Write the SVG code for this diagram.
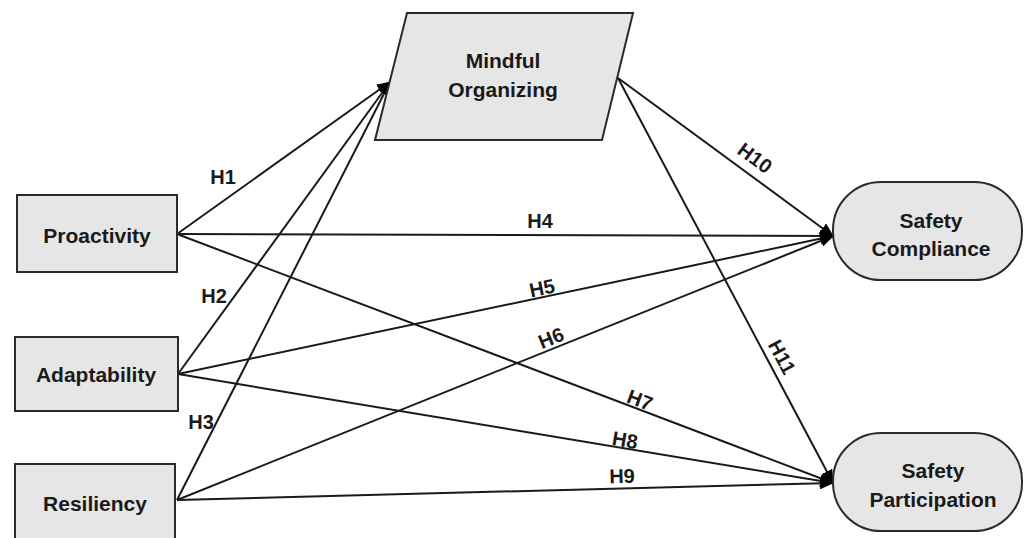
<svg xmlns="http://www.w3.org/2000/svg" width="1028" height="538" viewBox="0 0 1028 538">
<style>
.node{fill:#e6e6e6;stroke:#2a2a2a;stroke-width:2}
.nt{font-family:"Liberation Sans",Arial,sans-serif;font-weight:bold;font-size:21px;fill:#1a1a1a;text-anchor:middle}
.lbl{font-family:"Liberation Sans",Arial,sans-serif;font-weight:bold;font-size:20px;fill:#1a1a1a;text-anchor:middle}
.edge{stroke:#1a1a1a;stroke-width:2;fill:none;marker-end:url(#ah)}
</style>
<defs>
<marker id="ah" markerUnits="userSpaceOnUse" markerWidth="14" markerHeight="12" refX="13" refY="6" orient="auto">
<path d="M0,0 L14,6 L0,12 Z" fill="#000"/>
</marker>
</defs>
<rect width="1028" height="538" fill="#fff"/>
<g id="connectors">
<line class="edge" x1="177" y1="234" x2="390" y2="82"/>
<line class="edge" x1="178" y1="374" x2="390" y2="82"/>
<line class="edge" x1="177" y1="500" x2="390" y2="82"/>
<line class="edge" x1="177" y1="234" x2="833" y2="236"/>
<line class="edge" x1="178" y1="374" x2="833" y2="236"/>
<line class="edge" x1="177" y1="500" x2="833" y2="236"/>
<line class="edge" x1="177" y1="234" x2="833" y2="483"/>
<line class="edge" x1="178" y1="374" x2="833" y2="483"/>
<line class="edge" x1="177" y1="500" x2="833" y2="483"/>
<line class="edge" x1="618" y1="78" x2="833" y2="236"/>
<line class="edge" x1="618" y1="78" x2="833" y2="483"/>
<text class="lbl" x="223" y="184">H1</text>
<text class="lbl" x="214" y="303">H2</text>
<text class="lbl" x="201" y="429">H3</text>
<text class="lbl" x="540" y="228">H4</text>
<text class="lbl" transform="translate(542,288) rotate(-11.9)" y="7">H5</text>
<text class="lbl" transform="translate(551,338) rotate(-21.9)" y="7">H6</text>
<text class="lbl" transform="translate(640,400) rotate(20.7)" y="7">H7</text>
<text class="lbl" transform="translate(625,440) rotate(9.4)" y="7">H8</text>
<text class="lbl" transform="translate(622,476) rotate(-1.5)" y="7">H9</text>
<text class="lbl" transform="translate(755,158) rotate(36.5)" y="7">H10</text>
<text class="lbl" transform="translate(782,357) rotate(62)" y="7">H11</text>
</g>
<g id="proactivity">
<rect class="node" x="17" y="195" width="160" height="77"/>
<text class="nt" x="97" y="243">Proactivity</text>
</g>
<g id="adaptability">
<rect class="node" x="15" y="337" width="163" height="74"/>
<text class="nt" x="96" y="382">Adaptability</text>
</g>
<g id="resiliency">
<rect class="node" x="15" y="464" width="160" height="84"/>
<text class="nt" x="95" y="511">Resiliency</text>
</g>
<g id="mindful-organizing">
<polygon class="node" points="407,13 633,13 602,140 375,140"/>
<text class="nt" x="503" y="68">Mindful</text>
<text class="nt" x="503" y="97">Organizing</text>
</g>
<g id="safety-compliance">
<rect class="node" x="833" y="182" width="189" height="98" rx="48" ry="48"/>
<text class="nt" x="931" y="228">Safety</text>
<text class="nt" x="931" y="256">Compliance</text>
</g>
<g id="safety-participation">
<rect class="node" x="833" y="433" width="189" height="98" rx="48" ry="48"/>
<text class="nt" x="933" y="478">Safety</text>
<text class="nt" x="933" y="507">Participation</text>
</g>
</svg>
